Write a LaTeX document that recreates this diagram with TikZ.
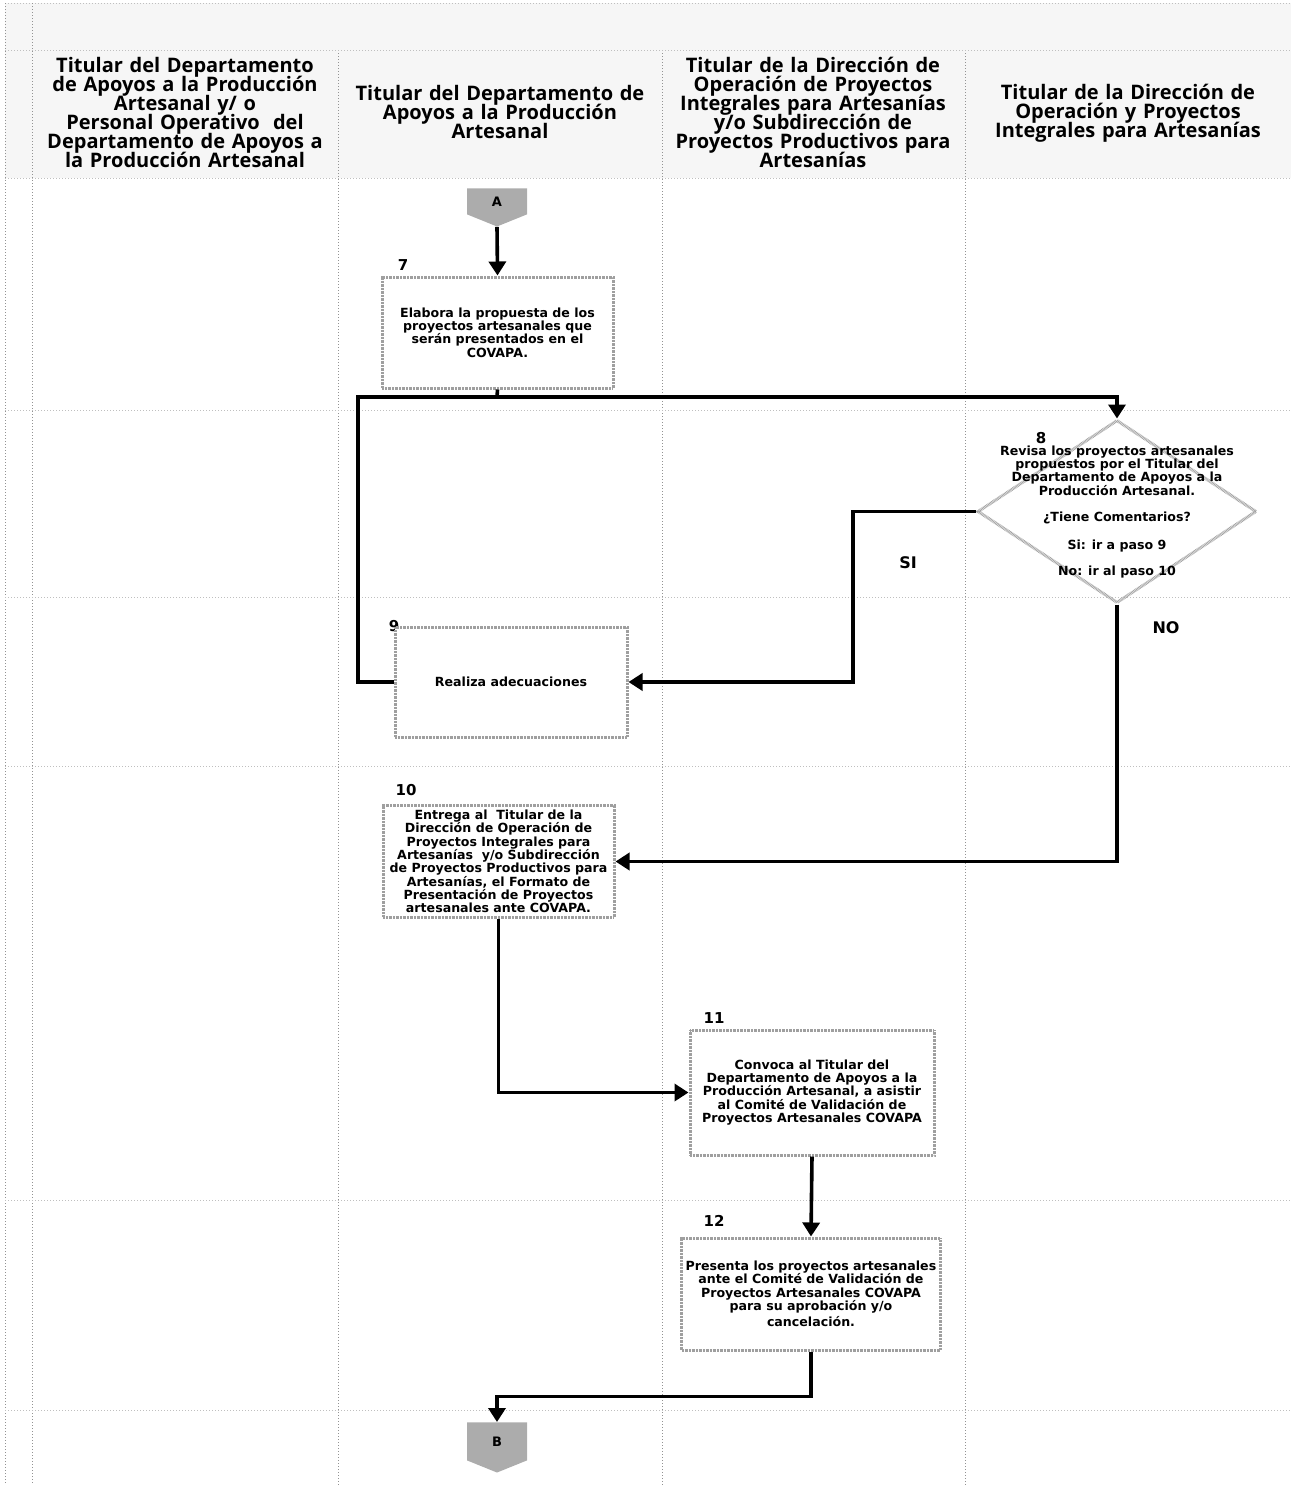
\documentclass[tikz,border=0pt]{standalone}
\usepackage{fontspec}
\setmainfont{Open Sans}
\newfontfamily\boxfont{DejaVu Sans}
\usetikzlibrary{arrows.meta, shapes.geometric, shapes.symbols}

\newcommand\headfont{\bfseries\fontsize{10}{9.5}\selectfont\lineskiplimit=-5pt\relax}

\tikzset{
  lane/.style={gray!85, densely dotted, line width=0.5pt},
  row/.style={gray!50, densely dotted, line width=0.5pt},
  laneHead/.style={font=\headfont, align=center, text width=160pt},
  border/.style={draw=gray!75, line width=1.5pt, dash pattern=on 0.35pt off 0.35pt},
  stepBox/.style={border, fill=white,
    font=\boxfont\bfseries\fontsize{6.3}{6.67}\selectfont, align=center, inner sep=2pt},
  stepNum/.style={font=\boxfont\bfseries\fontsize{7.5}{8}\selectfont},
  answer/.style={font=\boxfont\bfseries\fontsize{8}{9}\selectfont},
  offPage/.style={signal, signal to=south, signal pointer angle=136, fill=gray!65,
    minimum width=30pt, minimum height=14pt, inner sep=0pt, anchor=north,
    font=\boxfont\bfseries\fontsize{6.5}{7}\selectfont},
  flow/.style={line width=1.8pt, -{Triangle[width=8.5pt,length=7pt]}},
  joint/.style={line width=1.8pt},
}

\begin{document}
\begin{tikzpicture}[x=0.5pt, y=-0.5pt]

\useasboundingbox (0,0) rectangle (1291,1485);

% Header band and swim lanes
\fill[gray!7] (5,3) rectangle (1291,178);
\draw[row] (5,3) -- (1291,3);
\foreach \x in {5,32} {
  \draw[lane] (\x,3) -- (\x,1485);
}
\foreach \x in {338,662,965} {
  \draw[lane] (\x,50) -- (\x,1485);
}
\foreach \y in {50,178,410,597,766,1200,1410} {
  \draw[row] (5,\y) -- (1291,\y);
}

% Lane titles
\node[laneHead] (h1) at (185,112) {Titular del Departamento\\ de Apoyos a la Producción\\ Artesanal y/ o\\ Personal Operativo\ \ del\\ Departamento de Apoyos a\\ la Producción Artesanal};
\node[laneHead] (h2) at (500,112) {Titular del Departamento de\\ Apoyos a la Producción\\ Artesanal};
\node[laneHead] (h3) at (813,112) {Titular de la Dirección de\\ Operación de Proyectos\\ Integrales para Artesanías\\ y/o Subdirección de\\ Proyectos Productivos para\\ Artesanías};
\node[laneHead] (h4) at (1128,113) {Titular de la Dirección de\\ Operación y Proyectos\\ Integrales para Artesanías};

% Step numbers (drawn first, the boxes may cover them)
\foreach \n\x\y in {7/403/265, 8/1041/438, 9/394/626, 10/406/790, 11/714/1018, 12/714/1221} {
  \node[stepNum] (n\n) at (\x,\y) {\n};
}

% Off-page connectors
\node[offPage] (A) at (497,188) {A};
\node[offPage, minimum height=20pt] (B) at (497,1422) {B};

% Activities
\node[stepBox, minimum width=115.5pt, minimum height=55.5pt] (b7) at (497.5,332.5)
  {Elabora la propuesta de los\\ proyectos artesanales que\\ serán presentados en el\\ COVAPA.};
\node[diamond, border, minimum width=139.5pt, minimum height=91.5pt, inner sep=0pt] (d8) at (1117,511.5) {};
\node[font=\boxfont\bfseries\fontsize{6.3}{6.67}\selectfont, align=center] (t8) at (1117,512)
  {Revisa los proyectos artesanales\\ propuestos por el Titular del\\ Departamento de Apoyos a la\\ Producción Artesanal.\\[6.67pt]
   ¿Tiene Comentarios?\\[6.9pt] Si: ir a paso 9\\[6.67pt] No: ir al paso 10};
\node[stepBox, minimum width=116pt, minimum height=55pt] (b9) at (511,682) {Realiza adecuaciones};
\node[stepBox, minimum width=115.5pt, minimum height=55.5pt] (b10) at (498.5,861.5)
  {Entrega al\ \ Titular de la\\ Dirección de Operación de\\ Proyectos Integrales para\\ Artesanías\ \ y/o Subdirección\\ de Proyectos Productivos para\\ Artesanías, el Formato de\\ Presentación de Proyectos\\ artesanales ante COVAPA.};
\node[stepBox, minimum width=122pt, minimum height=62.5pt] (b11) at (812,1092.5)
  {Convoca al Titular del\\ Departamento de Apoyos a la\\ Producción Artesanal, a asistir\\ al Comité de Validación de\\ Proyectos Artesanales COVAPA};
\node[stepBox, minimum width=129pt, minimum height=56pt] (b12) at (811,1294)
  {Presenta los proyectos artesanales\\ ante el Comité de Validación de\\ Proyectos Artesanales COVAPA\\ para su aprobación y/o\\[1.5pt] cancelación.};

% Turning points of the connectors
\coordinate (j7) at (497,397);
\coordinate (j9) at (358,397);
\coordinate (c9) at (853,682);

% Connectors
\draw[flow] (A.south) -- (b7.north);
\draw[flow] (b7.south) -- (j7) -| (d8.north);
\draw[joint] (b9.west) -| (j9) -- (j7);
\draw[flow] (d8.west) -| (c9) -- (b9.east);
\draw[flow] (d8.south) |- (b10.east);
\draw[flow] (b10.south) |- (b11.west);
\draw[flow] (b11.south) -- (b12.north);
\draw[flow] (b12.south) -- ++(0,45) -| (B.north);

% Answers of the decision
\node[answer] (si) at (908,563) {SI};
\node[answer] (no) at (1166,628) {NO};

\end{tikzpicture}
\end{document}
